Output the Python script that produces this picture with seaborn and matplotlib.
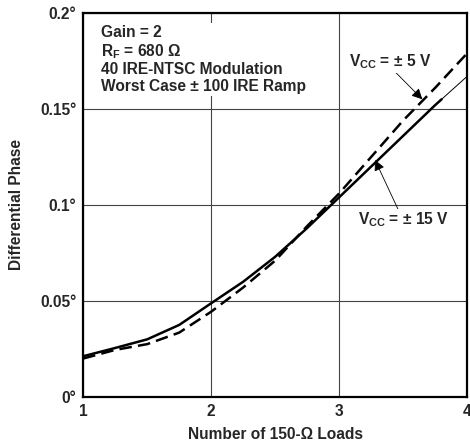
import numpy as np
import pandas as pd
import matplotlib
matplotlib.use("Agg")
import matplotlib.pyplot as plt
import seaborn as sns

# values
loads_5v = [1.0, 1.25, 1.5, 1.75, 2.0, 2.25, 2.5, 2.75, 3.0, 3.25, 3.5, 3.75, 4.0]
phase_5v = [0.020, 0.0245, 0.0275, 0.0335, 0.0444, 0.057, 0.071, 0.089, 0.106, 0.125, 0.144, 0.161, 0.179]

loads_15v = [1.0, 1.25, 1.5, 1.75, 2.0, 2.25, 2.5, 2.75, 3.0, 3.25, 3.5, 3.75, 3.8]
phase_15v = [0.0212, 0.0255, 0.030, 0.0375, 0.0488, 0.060, 0.073, 0.088, 0.104, 0.120, 0.136, 0.152, 0.155]

# thin tail of the 15 V trace
loads_15v_tail = [3.8, 4.0]
phase_15v_tail = [0.155, 0.167]

x_ticks = [1, 2, 3, 4]
y_ticks = [0, 0.05, 0.1, 0.15, 0.2]
y_tick_labels = ["0°", "0.05°", "0.1°", "0.15°", "0.2°"]

FS = 11.2

sns.set_theme(style="white")
plt.rcParams["font.family"] = ["Liberation Sans", "DejaVu Sans"]
plt.rcParams["font.weight"] = "bold"
plt.rcParams["mathtext.fontset"] = "custom"
plt.rcParams["mathtext.rm"] = "Liberation Sans:bold"
plt.rcParams["mathtext.bf"] = "Liberation Sans:bold"

fig = plt.figure(figsize=(4.7, 4.46), dpi=100)
ax = fig.add_axes([0.177, 0.110, 0.817, 0.861])

df5 = pd.DataFrame({"loads": loads_5v, "phase": phase_5v})
df15 = pd.DataFrame({"loads": loads_15v, "phase": phase_15v})
df15t = pd.DataFrame({"loads": loads_15v_tail, "phase": phase_15v_tail})

sns.lineplot(data=df5, x="loads", y="phase", ax=ax, color="black", lw=1.8,
             linestyle=(0, (5, 2.5)), zorder=3)
sns.lineplot(data=df15, x="loads", y="phase", ax=ax, color="black", lw=1.8, zorder=3)
sns.lineplot(data=df15t, x="loads", y="phase", ax=ax, color="black", lw=0.7, zorder=3)

ax.set_xlim(1, 4)
ax.set_ylim(0, 0.2)
ax.set_xticks(x_ticks)
ax.set_yticks(y_ticks)
ax.set_yticklabels(y_tick_labels)
ax.grid(True, color="#444444", lw=0.8)
ax.tick_params(length=0, labelsize=FS, pad=5)
for lab in ax.get_xticklabels() + ax.get_yticklabels():
    lab.set_fontweight("bold")
for sp in ax.spines.values():
    sp.set_color("black")
    sp.set_linewidth(1.6)

ax.set_xlabel("Number of 150-Ω Loads", fontsize=FS, fontweight="bold")
ax.set_ylabel("Differential Phase", fontsize=FS, fontweight="bold")
ax.xaxis.set_label_coords(0.5, -0.078)
ax.yaxis.set_label_coords(-0.155, 0.5)

ax.text(1.14, 0.1935,
        "Gain = 2\nR$_\\mathrm{F}$ = 680 Ω\n40 IRE-NTSC Modulation\nWorst Case ± 100 IRE Ramp",
        fontsize=FS, fontweight="bold", va="top", ha="left", linespacing=1.12,
        bbox=dict(facecolor="white", edgecolor="none", pad=2), zorder=4)

ax.annotate("V$_\\mathrm{CC}$ = ± 5 V", xy=(3.65, 0.155), xytext=(3.40, 0.1745),
            fontsize=FS, fontweight="bold", ha="center", va="center",
            bbox=dict(facecolor="white", edgecolor="none", pad=1),
            arrowprops=dict(arrowstyle="-|>", color="black", lw=0.6,
                            mutation_scale=16, shrinkA=0, shrinkB=0,
                            relpos=(0.55, 0.0)), zorder=4)
ax.annotate("V$_\\mathrm{CC}$ = ± 15 V", xy=(3.28, 0.1234), xytext=(3.50, 0.0922),
            fontsize=FS, fontweight="bold", ha="center", va="center",
            bbox=dict(facecolor="white", edgecolor="none", pad=1),
            arrowprops=dict(arrowstyle="-|>", color="black", lw=0.6,
                            mutation_scale=16, shrinkA=0, shrinkB=0,
                            relpos=(0.45, 1.0)), zorder=4)

fig.savefig("out.png", dpi=100)
